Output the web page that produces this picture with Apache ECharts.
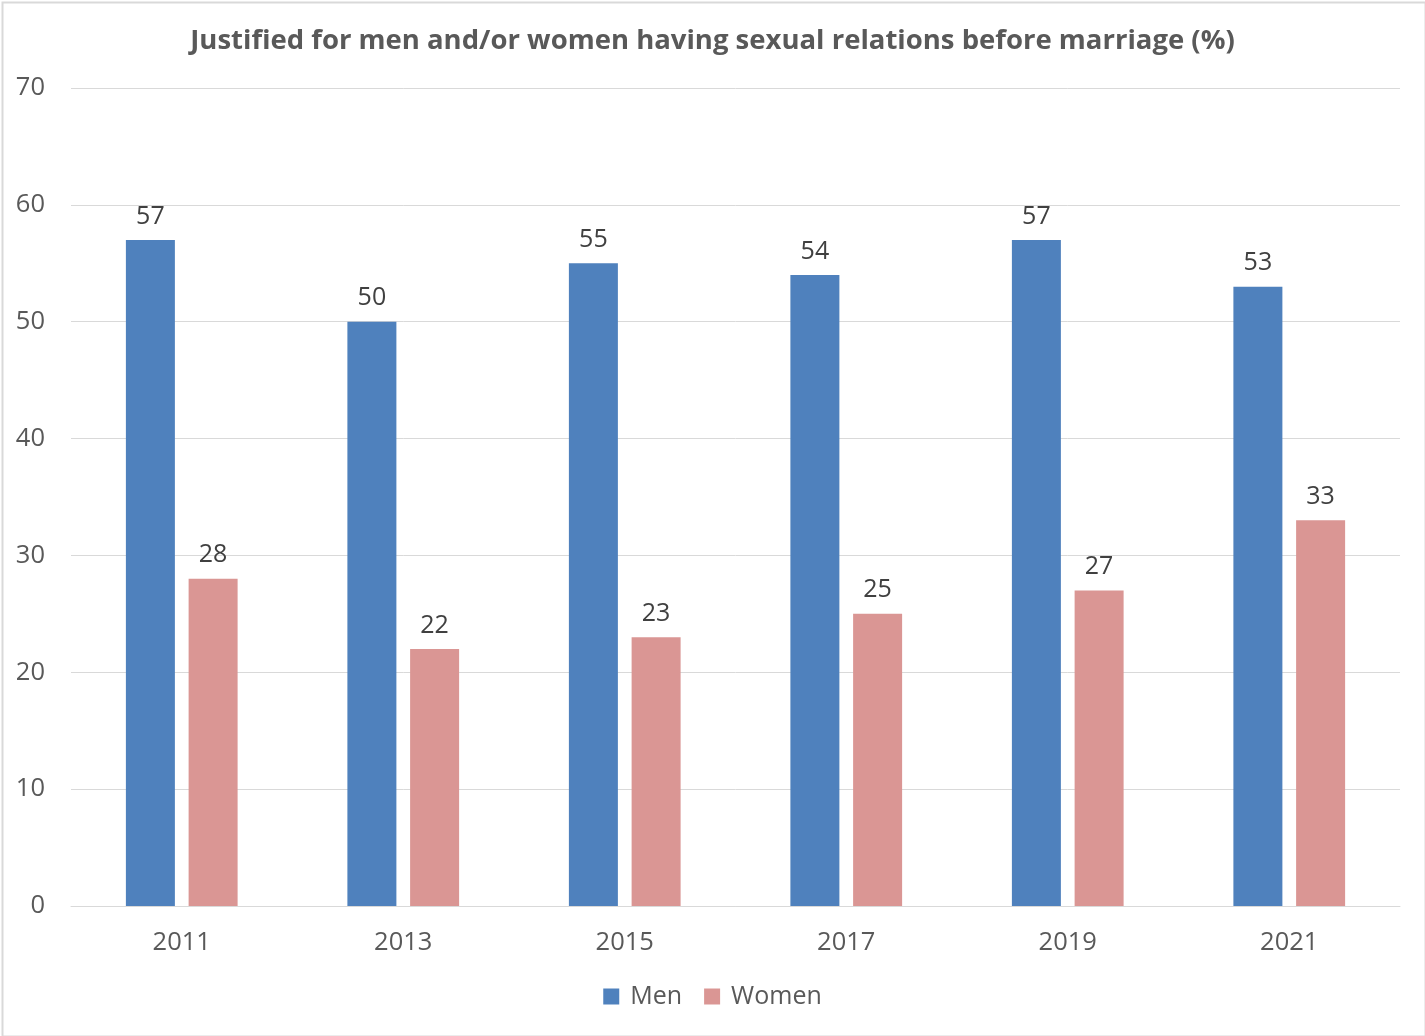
<!DOCTYPE html>
<html>
<head>
<meta charset="utf-8">
<script src="https://cdn.jsdelivr.net/npm/echarts@6/dist/echarts.min.js"></script>
<style>
html,body{margin:0;padding:0;background:#fff;}
#c{width:1425px;height:1036px;}
</style>
</head>
<body>
<div id="c"></div>
<script>
const categories = ['2011', '2013', '2015', '2017', '2019', '2021'];
const menValues = [57, 50, 55, 54, 57, 53];
const womenValues = [28, 22, 23, 25, 27, 33];
const yTicks = { min: 0, max: 70, interval: 10 };
const titleText = 'Justified for men and/or women having sexual relations before marriage (%)';

const FONT = '"Open Sans", "Noto Sans", sans-serif';
const chart = echarts.init(document.getElementById('c'));
chart.setOption({
  animation: false,
  backgroundColor: '#fff',
  title: {
    text: titleText,
    left: 'center',
    top: 22,
    textStyle: { fontFamily: FONT, fontSize: 27.5, fontWeight: 'bold', color: '#595959' }
  },
  graphic: [{
    type: 'rect',
    left: 0, top: 0,
    shape: { x: 0.5, y: 0.5, width: 1423, height: 1034 },
    style: { fill: 'none', stroke: '#D9D9D9', lineWidth: 2 },
    silent: true
  }],
  legend: {
    bottom: 22,
    left: 'center',
    itemWidth: 16,
    itemHeight: 16,
    itemGap: 22,
    icon: 'rect',
    textStyle: { fontFamily: FONT, fontSize: 25, color: '#595959', padding: [0, 0, 0, 6] },
    data: ['Men', 'Women']
  },
  grid: { left: 71, right: 25, top: 88, bottom: 130, containLabel: false },
  xAxis: {
    type: 'category',
    data: categories,
    axisLine: { show: true, lineStyle: { color: '#D9D9D9', width: 1 } },
    axisTick: { show: false },
    axisLabel: { fontFamily: FONT, fontSize: 25.5, color: '#595959', margin: 24 }
  },
  yAxis: {
    type: 'value',
    min: yTicks.min, max: yTicks.max, interval: yTicks.interval,
    axisLine: { show: false },
    axisTick: { show: false },
    axisLabel: { fontFamily: FONT, fontSize: 25.5, color: '#595959', margin: 26 },
    splitLine: { lineStyle: { color: '#D9D9D9', width: 1 } }
  },
  series: [
    {
      name: 'Men', type: 'bar', data: menValues,
      barWidth: 49, barGap: '28%',
      itemStyle: { color: '#4F81BD' },
      label: { show: true, position: 'top', distance: 11, fontFamily: FONT, fontSize: 25, color: '#404040' }
    },
    {
      name: 'Women', type: 'bar', data: womenValues,
      barWidth: 49, barGap: '28%',
      itemStyle: { color: '#DA9694' },
      label: { show: true, position: 'top', distance: 11, fontFamily: FONT, fontSize: 25, color: '#404040' }
    }
  ]
});
</script>
</body>
</html>
